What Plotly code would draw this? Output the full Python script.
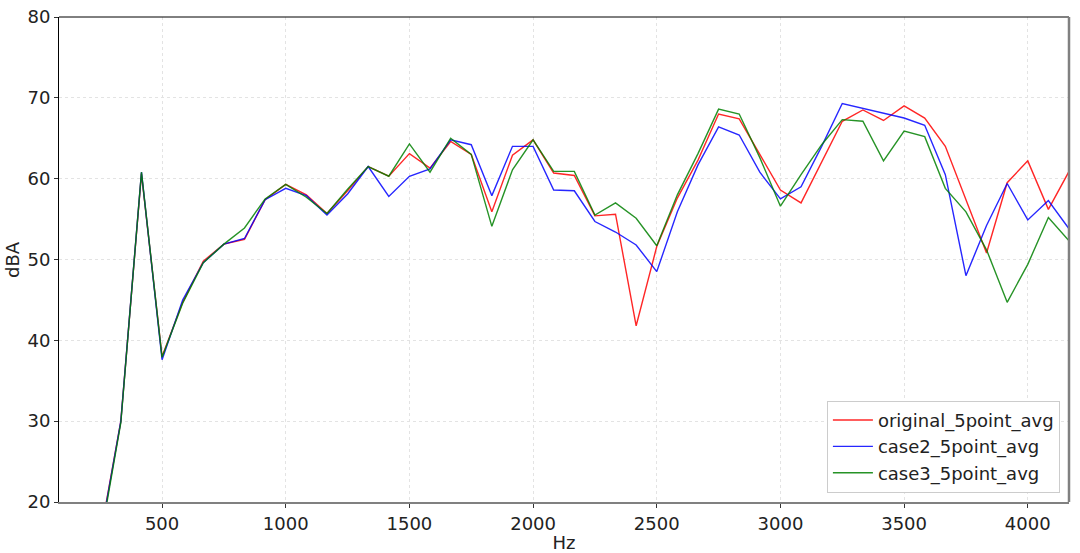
import plotly.graph_objects as go

# frequency bins (Hz), 1/12 kHz spacing
freq_hz = [250.0, 333.3, 416.7, 500.0, 583.3, 666.7, 750.0, 833.3, 916.7, 1000.0,
           1083.3, 1166.7, 1250.0, 1333.3, 1416.7, 1500.0, 1583.3, 1666.7, 1750.0, 1833.3,
           1916.7, 2000.0, 2083.3, 2166.7, 2250.0, 2333.3, 2416.7, 2500.0, 2583.3, 2666.7,
           2750.0, 2833.3, 2916.7, 3000.0, 3083.3, 3166.7, 3250.0, 3333.3, 3416.7, 3500.0,
           3583.3, 3666.7, 3750.0, 3833.3, 3916.7, 4000.0, 4083.3, 4166.7]

original_5point_avg = [15.8, 30.0, 60.6, 38.0, 44.7, 49.8, 51.9, 52.5, 57.4, 59.3,
                       58.0, 55.7, 58.5, 61.5, 60.3, 63.1, 61.3, 64.6, 63.0, 55.9,
                       62.9, 64.8, 60.7, 60.4, 55.4, 55.6, 41.8, 51.6, 57.6, 62.3,
                       68.0, 67.4, 63.0, 58.6, 57.0, 62.1, 67.1, 68.5, 67.2, 69.0,
                       67.5, 64.0, 57.4, 50.8, 59.5, 62.2, 56.2, 60.9]

case2_5point_avg = [15.6, 30.0, 60.8, 37.6, 45.0, 49.6, 51.9, 52.6, 57.4, 58.8,
                    57.9, 55.5, 58.1, 61.5, 57.8, 60.3, 61.2, 64.8, 64.2, 57.9,
                    64.0, 64.0, 58.6, 58.5, 54.7, 53.4, 51.8, 48.5, 55.9, 61.7,
                    66.4, 65.4, 60.8, 57.5, 59.0, 64.0, 69.3, 68.7, 68.1, 67.5,
                    66.6, 60.5, 48.0, 54.2, 59.4, 54.9, 57.3, 53.8]

case3_5point_avg = [15.2, 29.8, 60.8, 37.9, 44.6, 49.6, 51.9, 53.9, 57.5, 59.3,
                    57.7, 55.7, 58.7, 61.5, 60.3, 64.3, 60.8, 65.0, 63.0, 54.1,
                    61.1, 64.8, 60.9, 60.9, 55.5, 57.0, 55.1, 51.7, 58.0, 63.1,
                    68.6, 68.0, 62.6, 56.6, 60.5, 64.2, 67.3, 67.1, 62.2, 65.9,
                    65.2, 58.8, 55.9, 51.2, 44.7, 49.4, 55.2, 52.3]

series = [
    ("original_5point_avg", original_5point_avg, "rgba(255,0,0,0.85)"),
    ("case2_5point_avg", case2_5point_avg, "rgba(0,0,255,0.85)"),
    ("case3_5point_avg", case3_5point_avg, "rgba(0,128,0,0.85)"),
]

fig = go.Figure()
for name, vals, col in series:
    fig.add_trace(go.Scatter(
        x=freq_hz, y=vals, mode="lines", name=name,
        line=dict(color=col, width=1.4)
    ))

font = dict(family="DejaVu Sans", size=18, color="#222222")

fig.update_layout(
    width=1080, height=553,
    margin=dict(l=59, r=11, t=17, b=51),
    paper_bgcolor="white", plot_bgcolor="white",
    font=font,
    showlegend=True,
    legend=dict(
        x=0.991, y=0.019, xanchor="right", yanchor="bottom",
        bgcolor="white", bordercolor="#cccccc", borderwidth=1,
        font=font, tracegroupgap=2, itemwidth=40
    ),
)

fig.update_xaxes(
    range=[83.33, 4166.67], tick0=500, dtick=500, automargin=False,
    showgrid=True, gridcolor="#e3e3e3", gridwidth=0.8, griddash="dot",
    zeroline=False, showline=True, linecolor="#808080", linewidth=2,
    ticks="outside", ticklen=4, tickcolor="#333333",
    title=dict(text="Hz", font=font, standoff=3),
)
fig.update_yaxes(
    range=[20, 80], dtick=10, automargin=False, ticklabeloverflow="allow",
    showgrid=True, gridcolor="#e3e3e3", gridwidth=0.8, griddash="dot",
    zeroline=False, showline=True, linecolor="black", linewidth=1,
    ticks="outside", ticklen=4, tickcolor="#333333",
)

# y title as an annotation so it sits where the reference has it
fig.add_annotation(text="dBA", xref="paper", yref="paper", x=-0.046, y=0.5,
                   textangle=-90, showarrow=False, font=font,
                   xanchor="center", yanchor="middle")

# top (black) and right (gray) frame edges
fig.add_shape(type="line", xref="paper", yref="paper", x0=0, x1=1, y0=1, y1=1,
              line=dict(color="black", width=1))
fig.add_shape(type="line", xref="paper", yref="paper", x0=1, x1=1, y0=0, y1=1,
              line=dict(color="#808080", width=2.5))

# drop the default 8px body margin so the figure sits at the window corner
fig.write_html("out.html", config={"displayModeBar": False},
               post_script="document.body.style.margin='0';")
